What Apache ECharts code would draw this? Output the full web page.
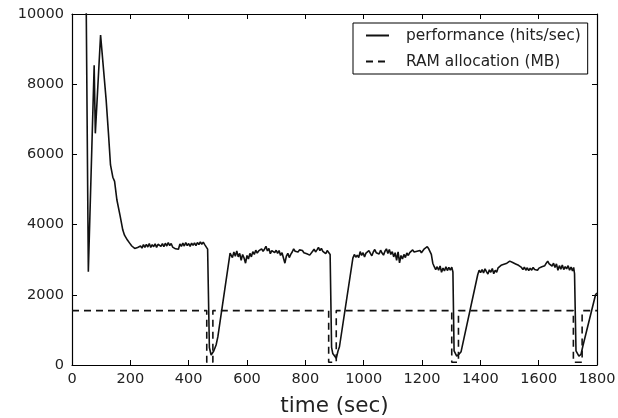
<!DOCTYPE html>
<html>
<head>
<meta charset="utf-8">
<script src="https://cdn.jsdelivr.net/npm/echarts@6/dist/echarts.min.js"></script>
<style>
  html, body { margin: 0; padding: 0; background: #fff; }
  #chart { width: 618px; height: 418px; }
</style>
</head>
<body>
<div id="chart"></div>
<script>
// performance (hits/sec)
var perfTime = [48, 56, 76, 80, 98, 117, 125, 132, 140, 146, 154, 165, 174, 180, 190, 197,
    200, 205, 210, 215, 220, 225, 230, 235, 240, 245, 250, 255, 260, 265, 270, 275, 280, 285, 290, 295,
    300, 305, 310, 315, 320, 325, 330, 335, 340, 345, 350, 355, 360, 365, 370, 375, 380, 385, 390, 395,
    400, 405, 410, 415, 420, 425, 430, 435, 440, 445, 450, 455, 460, 465,
    471, 477, 480, 486, 494, 500, 542,
    545, 550, 555, 560, 565, 570, 575, 580, 585, 590, 595, 600, 605, 610, 615, 620, 625, 630, 635, 640,
    645, 650, 655, 660, 665, 670, 675, 680, 685, 690, 695, 700, 705, 710, 715, 720, 725, 730, 735, 740,
    745, 750, 755, 760, 765, 770, 775, 780, 785, 790, 795, 800, 805, 810, 815, 820, 825, 830, 835, 840,
    845, 850, 855, 860, 865, 870, 875, 880, 885,
    890, 894, 906, 912, 917, 963,
    968, 973, 978, 983, 988, 993, 998, 1003, 1008, 1013, 1018, 1023, 1028, 1033, 1038, 1043, 1048, 1053, 1058, 1063,
    1068, 1073, 1078, 1083, 1088, 1093, 1098, 1103, 1108, 1113, 1118, 1123, 1128, 1133, 1138, 1143, 1148, 1153, 1158, 1163,
    1168, 1173, 1178, 1183, 1188, 1193, 1198, 1203, 1208, 1213, 1218, 1223, 1228, 1232, 1237, 1242, 1247, 1252, 1257, 1262,
    1267, 1272, 1277, 1282, 1287, 1292, 1297, 1302, 1306,
    1310, 1319, 1326, 1334, 1391,
    1396, 1401, 1406, 1411, 1416, 1421, 1426, 1431, 1436, 1441, 1446, 1451, 1456, 1461, 1466, 1471, 1476, 1481, 1486, 1491,
    1496, 1501, 1506, 1511, 1516, 1521, 1526, 1531, 1536, 1541, 1546, 1551, 1556, 1561, 1566, 1571, 1576, 1581, 1586, 1591,
    1596, 1601, 1606, 1611, 1616, 1621, 1626, 1631, 1636, 1641, 1646, 1651, 1656, 1661, 1666, 1671, 1676, 1681, 1686, 1691,
    1696, 1701, 1706, 1711, 1716, 1720, 1723,
    1728, 1738, 1745, 1751, 1795, 1800];
var perfHits = [11000, 2660, 8540, 6600, 9400, 7560, 6600, 5700, 5350, 5230, 4700, 4250, 3850, 3700, 3560, 3480,
    3460, 3390, 3350, 3320, 3300, 3350, 3310, 3390, 3330, 3430, 3350, 3440, 3360, 3460, 3350, 3430, 3370, 3450, 3350, 3440,
    3470, 3380, 3460, 3370, 3470, 3390, 3490, 3400, 3460, 3360, 3370, 3310, 3360, 3300, 3450, 3380, 3470, 3390, 3490, 3400,
    3460, 3380, 3470, 3410, 3480, 3400, 3490, 3430, 3510, 3440, 3500, 3430, 3450, 3300,
    500, 285, 255, 400, 570, 800, 3190,
    3150, 3060, 3220, 3100, 3250, 3080, 3180, 2980, 3150, 3050, 2900, 3120, 3020, 3180, 3080, 3230, 3150, 3270, 3190, 3250,
    3200, 3310, 3240, 3300, 3380, 3250, 3320, 3170, 3260, 3310, 3200, 3270, 3180, 3260, 3120, 3200, 3050, 2900, 3100, 3180,
    3060, 3150, 3220, 3310, 3240, 3290, 3220, 3280, 3230, 3260, 3200, 3250, 3170, 3210, 3130, 3180, 3240, 3300, 3220, 3280,
    3350, 3260, 3320, 3240, 3280, 3170, 3260, 3220, 3150,
    500, 330, 190, 400, 520, 3045,
    3150, 3070, 3130, 3060, 3230, 3120, 3200, 3080, 3190, 3140, 3260, 3180, 3110, 3220, 3290, 3200, 3250, 3160, 3270, 3190,
    3130, 3240, 3310, 3180, 3290, 3150, 3230, 3080, 3200, 2980, 3220, 2910, 3120, 3020, 3150, 3060, 3190, 3120, 3200, 3170,
    3280, 3220, 3170, 3240, 3210, 3260, 3200, 3240, 3310, 3280, 3370, 3310, 3330, 3150, 2900, 2800, 2720, 2800, 2700, 2820,
    2640, 2760, 2680, 2800, 2690, 2780, 2700, 2790, 2650,
    400, 255, 300, 380, 2570,
    2700, 2630, 2720, 2620, 2740, 2660, 2590, 2710, 2640, 2750, 2600, 2700, 2640, 2770, 2720, 2840, 2800, 2870, 2830, 2900,
    2860, 2960, 2990, 2920, 2950, 2880, 2910, 2840, 2800, 2780, 2720, 2790, 2700, 2770, 2690, 2760, 2700, 2780, 2720, 2770,
    2700, 2760, 2730, 2800, 2760, 2830, 2900, 2960, 2880, 2930, 2820, 2900, 2780, 2880, 2700, 2830, 2730, 2850, 2720, 2800,
    2740, 2830, 2700, 2790, 2680, 2780, 2600,
    400, 255, 300, 520, 2000, 2050];

// RAM allocation (MB)
var ramTime = [0, 462, 462, 483, 483, 880, 880, 906, 906, 1302, 1302, 1325, 1325, 1719, 1719, 1749, 1749, 1800];
var ramMB = [1550, 1550, 80, 80, 1550, 1550, 80, 80, 1550, 1550, 80, 80, 1550, 1550, 80, 80, 1550, 1550];

var seriesNames = ['performance (hits/sec)', 'RAM allocation (MB)'];
var xTicks = [0, 1800, 200];
var yTicks = [0, 10000, 2000];

var zip = function (xs, ys) {
    var out = [];
    for (var i = 0; i < xs.length; i++) {
        out.push([xs[i], ys[i]]);
    }
    return out;
};

var font = 'DejaVu Sans';

var baseAxis = function (pos, range, showLabel, margin) {
    return {
        type: 'value',
        position: pos,
        min: range[0],
        max: range[1],
        interval: range[2],
        splitLine: { show: false },
        axisLine: { show: true, onZero: false, lineStyle: { color: '#000', width: 1.2 } },
        axisTick: { show: true, inside: true, length: 5, lineStyle: { color: '#000', width: 1 } },
        axisLabel: {
            show: showLabel, color: '#222', fontSize: 14.5, fontFamily: font, margin: margin,
            formatter: function (v) { return String(v); }
        }
    };
};

var xBottom = baseAxis('bottom', xTicks, true, 7);
xBottom.name = 'time (sec)';
xBottom.nameLocation = 'middle';
xBottom.nameGap = 30;
xBottom.nameTextStyle = { color: '#222', fontSize: 21.5, fontFamily: font };

var option = {
    animation: false,
    backgroundColor: '#fff',
    grid: { left: 72, right: 21, top: 14, bottom: 53, outerBoundsMode: 'none' },
    xAxis: [xBottom, baseAxis('top', xTicks, false, 8)],
    yAxis: [baseAxis('left', yTicks, true, 8), baseAxis('right', yTicks, false, 8)],
    legend: {
        orient: 'vertical',
        left: 353,
        top: 23,
        padding: [5, 7, 5, 12],
        itemGap: 11,
        itemWidth: 23,
        itemHeight: 14,
        borderColor: '#000',
        borderWidth: 1,
        backgroundColor: '#fff',
        itemStyle: { color: 'rgba(0,0,0,0)', borderWidth: 0 },
        textStyle: { color: '#222', fontSize: 15.4, fontFamily: font, padding: [0, 0, 0, 12] },
        data: seriesNames
    },
    series: [
        {
            name: seriesNames[0],
            type: 'line',
            symbol: 'none',
            clip: true,
            data: zip(perfTime, perfHits),
            lineStyle: { color: '#111', width: 1.6 },
            itemStyle: { color: '#111' }
        },
        {
            name: seriesNames[1],
            type: 'line',
            symbol: 'none',
            clip: true,
            data: zip(ramTime, ramMB),
            lineStyle: { color: '#111', width: 1.6, type: [7, 5] },
            itemStyle: { color: '#111' }
        }
    ]
};

var chart = echarts.init(document.getElementById('chart'));
chart.setOption(option);
</script>
</body>
</html>
